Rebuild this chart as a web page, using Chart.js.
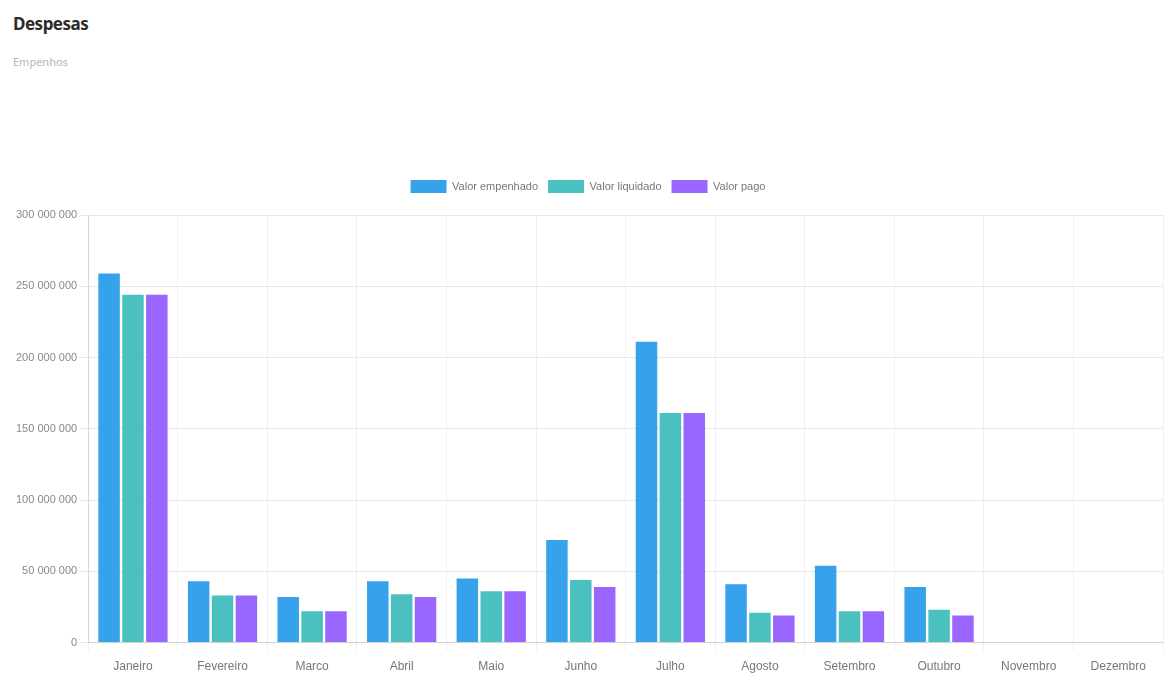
<!DOCTYPE html>
<html>
<head>
<meta charset="utf-8">
<script src="https://cdn.jsdelivr.net/npm/chart.js@4.4.0/dist/chart.umd.min.js"></script>
<style>
    body { margin: 0; background: #fff; font-family: 'Liberation Sans', sans-serif; overflow: hidden; }
    #title { position: absolute; left: 13px; top: 12px; font-family: 'Noto Sans', sans-serif; font-weight: bold; font-size: 17px; color: #2b2b2b; letter-spacing: -0.5px; }
    #subtitle { position: absolute; left: 13px; top: 54px; font-family: 'Noto Sans', sans-serif; font-size: 11px; color: #b5b5b5; }
    #chart-container { position: absolute; left: 0; top: 170px; width: 1165px; height: 513px; }
</style>
</head>
<body>
<div id="title">Despesas</div>
<div id="subtitle">Empenhos</div>
<div id="chart-container"><canvas id="myChart"></canvas></div>
<script>
const months = ['Janeiro', 'Fevereiro', 'Marco', 'Abril', 'Maio', 'Junho', 'Julho', 'Agosto', 'Setembro', 'Outubro', 'Novembro', 'Dezembro'];

// valores em reais
const valorEmpenhado = [259000000, 43000000, 32000000, 43000000, 45000000, 72000000, 211000000, 41000000, 54000000, 39000000, 0, 0];
const valorLiquidado = [244000000, 33000000, 22000000, 34000000, 36000000, 44000000, 161000000, 21000000, 22000000, 23000000, 0, 0];
const valorPago = [244000000, 33000000, 22000000, 32000000, 36000000, 39000000, 161000000, 19000000, 22000000, 19000000, 0, 0];

const fontFamily = "'Liberation Sans', sans-serif";

function formatNumber(v) {
    return String(v).replace(/\B(?=(\d{3})+(?!\d))/g, ' ');
}

// extra space below the legend
const legendSpacing = {
    id: 'legendSpacing',
    beforeInit(chart) {
        const fit = chart.legend.fit;
        chart.legend.fit = function () {
            fit.bind(chart.legend)();
            this.height += 12;
        };
    }
};

const ctx = document.getElementById('myChart').getContext('2d');

const chart = new Chart(ctx, {
    type: 'bar',
    data: {
        labels: months,
        datasets: [
            {
                label: 'Valor empenhado',
                data: valorEmpenhado,
                backgroundColor: '#36a2eb', // Blue
                borderColor: '#36a2eb',
                borderWidth: 0
            },
            {
                label: 'Valor liquidado',
                data: valorLiquidado,
                backgroundColor: '#4bc0c0', // Teal
                borderColor: '#4bc0c0',
                borderWidth: 0
            },
            {
                label: 'Valor pago',
                data: valorPago,
                backgroundColor: '#9966ff', // Purple
                borderColor: '#9966ff',
                borderWidth: 0
            }
        ]
    },
    plugins: [legendSpacing],
    options: {
        responsive: true,
        maintainAspectRatio: false,
        animation: false,
        layout: {
            padding: { left: 13, right: 2, bottom: 0, top: 0 }
        },
        plugins: {
            legend: {
                position: 'top',
                labels: {
                    boxWidth: 36,
                    boxHeight: 13,
                    padding: 10,
                    color: '#777',
                    font: { family: fontFamily, size: 11 }
                }
            },
            tooltip: { enabled: false }
        },
        scales: {
            x: {
                grid: { color: '#f0f0f0' },
                ticks: {
                    padding: 9,
                    color: '#777',
                    font: { family: fontFamily, size: 12 }
                }
            },
            y: {
                beginAtZero: true,
                min: 0,
                max: 300000000,
                grid: { color: '#e8e8e8' },
                ticks: {
                    stepSize: 50000000,
                    color: '#888',
                    font: { family: fontFamily, size: 11 },
                    callback: (v) => formatNumber(v)
                }
            }
        }
    }
});
</script>
</body>
</html>
